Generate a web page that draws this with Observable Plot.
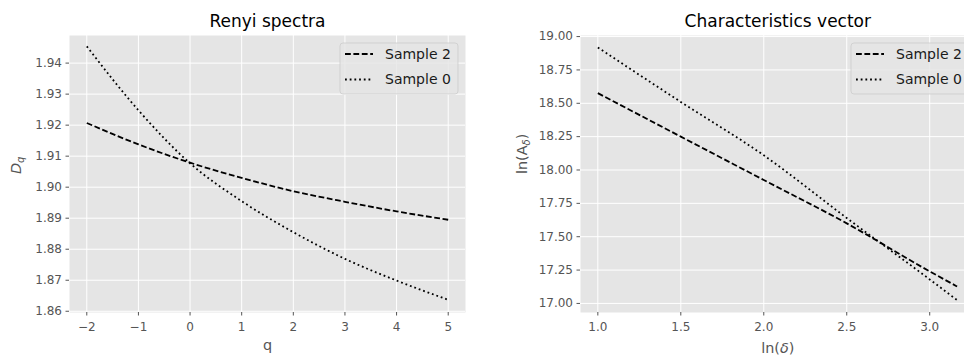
<!DOCTYPE html>
<html><head><meta charset="utf-8">
<script src="https://cdn.jsdelivr.net/npm/d3@7"></script>
<script src="https://cdn.jsdelivr.net/npm/@observablehq/plot@0.6"></script>
<style>
html,body{margin:0;padding:0;background:#fff;}
#wrap{position:relative;width:964px;height:359px;overflow:hidden;font-family:"DejaVu Sans",sans-serif;}
#wrap > svg{position:absolute;top:0;}
</style></head><body><div id="wrap"></div>
<script>
// ---- data ----
const qValues = [-2, -1, 0, 1, 2, 3, 4, 5];
const renyiSample2 = [1.9207, 1.9138, 1.9079, 1.9030, 1.8987, 1.8953, 1.8922, 1.8895];
const renyiSample0 = [1.9454, 1.9248, 1.9077, 1.8955, 1.8855, 1.8769, 1.8699, 1.8637];
const lnDelta = [1.0, 1.5, 2.0, 2.5, 3.0, 3.165];
const charSample2 = [18.576, 18.25, 17.925, 17.60, 17.24, 17.127];
const charSample0 = [18.918, 18.51, 18.11, 17.64, 17.18, 17.025];
const seriesNames = ["Sample 2", "Sample 0"];
const qTicks = [-2, -1, 0, 1, 2, 3, 4, 5];
const dqTicks = [1.86, 1.87, 1.88, 1.89, 1.90, 1.91, 1.92, 1.93, 1.94];
const lnDeltaTicks = [1.0, 1.5, 2.0, 2.5, 3.0];
const lnATicks = [17.00, 17.25, 17.50, 17.75, 18.00, 18.25, 18.50, 18.75, 19.00];
const titles = ["Renyi spectra", "Characteristics vector"];

const DASH = "5.8,2.6", DOT = "1.8,2.9";
const wrap = document.getElementById("wrap");

function rows(xs, ys) { return xs.map((x, i) => ({x, y: ys[i]})); }

function panel(o) {
  return Plot.plot({
    width: o.width, height: 359,
    marginLeft: o.marginLeft, marginRight: o.marginRight, marginTop: 35, marginBottom: 47,
    style: {fontFamily: "DejaVu Sans", fontSize: "12px", background: "transparent", overflow: "visible"},
    x: {domain: o.xDomain},
    y: {domain: o.yDomain},
    marks: [
      Plot.frame({fill: "#e5e5e5", stroke: "none"}),
      Plot.gridX({ticks: o.xTicks, stroke: "white", strokeOpacity: 1, strokeWidth: 1}),
      Plot.gridY({ticks: o.yTicks, stroke: "white", strokeOpacity: 1, strokeWidth: 1}),
      Plot.line(o.s2, {x: "x", y: "y", stroke: "black", strokeWidth: 1.8, strokeDasharray: DASH, strokeLinecap: "butt", curve: "monotone-x"}),
      Plot.line(o.s0, {x: "x", y: "y", stroke: "black", strokeWidth: 1.8, strokeDasharray: DOT, strokeLinecap: "butt", curve: "monotone-x"}),
      Plot.axisX({ticks: o.xTicks, tickFormat: o.xFmt, tickSize: 3.5, tickPadding: 6, color: "#555", label: null}),
      Plot.axisY({ticks: o.yTicks, tickFormat: o.yFmt, tickSize: 3.5, tickPadding: 4, color: "#555", label: null}),
      Plot.text([o.title], {frameAnchor: "top", lineAnchor: "middle", dy: -13.7, fontSize: 17, fill: "black"}),
      Plot.text([o.xlabel], {frameAnchor: "bottom", lineAnchor: "middle", dy: o.xlabelDy, fontSize: 14.4, fill: "#555"}),
      Plot.text([o.ylabel], {frameAnchor: "left", lineAnchor: "middle", dx: o.ylabelDx, rotate: -90, fontSize: 14.4, fill: "#555"})
    ]
  });
}

const left = panel({
  width: 480, marginLeft: 69, marginRight: 15,
  xDomain: [-2.335, 5.335], yDomain: [1.8596, 1.9489],
  xTicks: qTicks, yTicks: dqTicks, xFmt: d3.format("d"), yFmt: d3.format(".2f"),
  s2: rows(qValues, renyiSample2), s0: rows(qValues, renyiSample0),
  title: titles[0], xlabel: "q", ylabel: "Dq", xlabelDy: 33, ylabelDx: -53
});
left.style.left = "0px";
wrap.appendChild(left);

const right = panel({
  width: 500, marginLeft: 100, marginRight: 5.4,
  xDomain: [0.8955, 3.2735], yDomain: [16.932, 19.008],
  xTicks: lnDeltaTicks, yTicks: lnATicks, xFmt: d3.format(".1f"), yFmt: d3.format(".2f"),
  s2: rows(lnDelta, charSample2), s0: rows(lnDelta, charSample0),
  title: titles[1], xlabel: "ln(δ)", ylabel: "ln(Aδ)", xlabelDy: 36.2, ylabelDx: -58.6
});
right.style.left = "480px";
wrap.appendChild(right);

// math-style labels
function rewrite(svg, content, html) {
  d3.select(svg).selectAll("text").filter(function () { return this.textContent === content; }).html(html);
}
rewrite(left, "Dq", '<tspan font-style="italic">D</tspan><tspan font-style="italic" font-size="10" dy="3">q</tspan>');
rewrite(right, "ln(Aδ)", 'ln(A<tspan font-style="italic" font-size="10" dy="3">δ</tspan><tspan dy="-3">)</tspan>');
rewrite(right, "ln(δ)", 'ln(<tspan font-style="italic">δ</tspan>)');

// legends
function legend(boxLeft) {
  const svg = d3.create("svg").attr("width", 122).attr("height", 56)
    .style("left", (boxLeft - 1) + "px").style("top", "42px");
  svg.append("rect").attr("x", 1).attr("y", 1).attr("width", 118).attr("height", 51).attr("rx", 3)
    .attr("fill", "#e5e5e5").attr("fill-opacity", 0.8).attr("stroke", "#cccccc").attr("stroke-opacity", 0.8);
  const dashes = [DASH, DOT];
  seriesNames.forEach((name, i) => {
    const y = 12 + i * 25.5;
    svg.append("line").attr("x1", 6).attr("x2", 34).attr("y1", y).attr("y2", y)
      .attr("stroke", "black").attr("stroke-width", 1.8).attr("stroke-dasharray", dashes[i]);
    svg.append("text").attr("x", 46).attr("y", y).attr("dy", "0.35em")
      .attr("font-family", "DejaVu Sans").attr("font-size", 14).attr("fill", "#1a1a1a").text(name);
  });
  return svg.node();
}
wrap.appendChild(legend(340));
wrap.appendChild(legend(850.7));
</script></body></html>
